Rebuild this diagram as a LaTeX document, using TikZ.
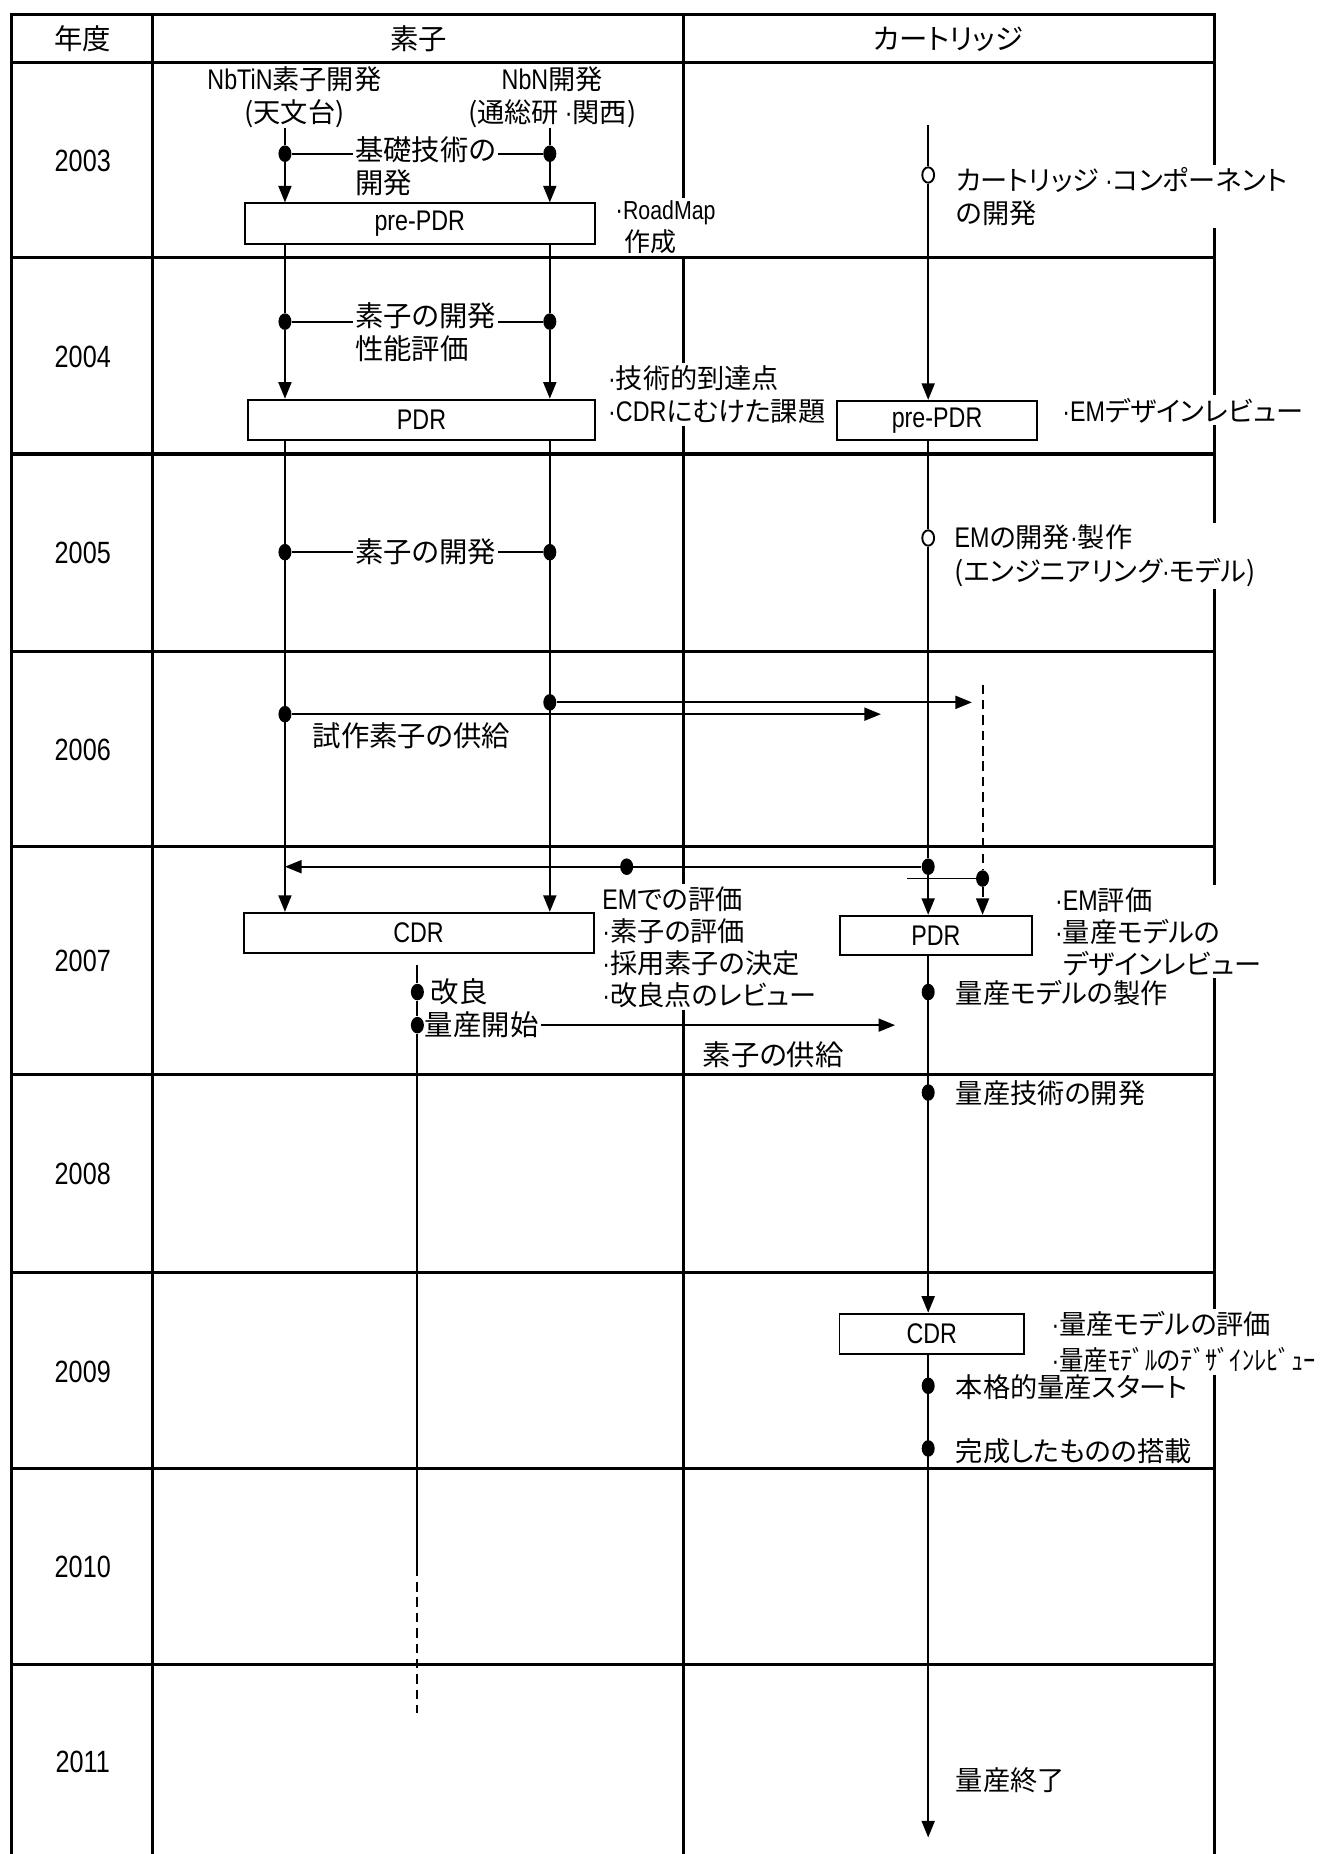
\documentclass[tikz,border=0pt]{standalone}
\usepackage{fontspec}
\setmainfont{Noto Sans CJK JP}[RawFeature=+palt]
\newfontfamily\lat{Liberation Sans}[FakeStretch=0.82]
\newcommand\bul{{\lat\fontsize{12}{14}\selectfont ·}}
\usetikzlibrary{arrows.meta,shapes.geometric}

\begin{document}
\begin{tikzpicture}[x=0.5pt,y=-0.5pt,font=\fontsize{11.5}{14}\selectfont,
	tbl/.style={line width=1.4pt},
	flow/.style={line width=0.8pt},
	arr/.style={-{Triangle[width=5.5pt,length=7pt]}},
	dsh/.style={dash pattern=on 4pt off 2.5pt},
	dot/.style={ellipse,fill,inner sep=0pt,minimum width=5.5pt,minimum height=7pt},
	odot/.style={ellipse,draw,fill=white,line width=0.8pt,inner sep=0pt,minimum width=5pt,minimum height=6.5pt},
	latn/.style={font=\fontsize{12}{14}\selectfont\lat},
	box/.style={draw,line width=0.8pt,fill=white,inner sep=0pt,minimum height=17pt,latn},
	lbl/.style={anchor=west,align=left,inner sep=1pt},
	wlbl/.style={lbl,fill=white}]
	\useasboundingbox (0,0) rectangle (1130,1568);

	% table
	\draw[tbl] (10,1568) -- (10,12) -- (1027,12) -- (1027,1568);
	\draw[tbl] (129,12) -- (129,1568);
	\draw[tbl] (578,12) -- (578,1568);
	\foreach \y in {53,218,384,551,716,909,1076,1242,1408}
		\draw[tbl] (10,\y) -- (1027,\y);

	\node[font=\fontsize{12}{14}\selectfont] (hyear) at (70,33) {年度};
	\node[font=\fontsize{12}{14}\selectfont] (helem) at (354,33) {素子};
	\node[font=\fontsize{12}{14}\selectfont] (hcart) at (802,33) {カートリッジ};

	% years
	\foreach \yr/\y in {2003/136,2004/302,2005/468,2006/634,2007/813,2008/993,2009/1160,2010/1325,2011/1490}
		\node[font=\fontsize{13}{15}\selectfont\lat] (y\yr) at (70,\y) {\yr};

	% boxes
	\node[box,minimum width=148pt] (epre) at (355,189) {pre-PDR};
	\node[box,minimum width=146.5pt] (epdr) at (356.5,355) {PDR};
	\node[box,minimum width=148pt] (ecdr) at (354,789) {CDR};
	\node[box,minimum width=84.5pt,minimum height=16.5pt] (cpre) at (792.5,355.5) {pre-PDR};
	\node[box,minimum width=81pt,minimum height=16.5pt] (cpdr) at (791.5,791) {PDR};
	\node[box,minimum width=78pt] (ccdr) at (788,1128) {CDR};

	% element lanes
	\coordinate (a0) at (241,108);
	\coordinate (b0) at (465,108);
	\node[dot] (a1) at (241,130) {};
	\node[dot] (b1) at (465,130) {};
	\node[dot] (a2) at (241,272) {};
	\node[dot] (b2) at (465,272) {};
	\node[dot] (a3) at (241,467) {};
	\node[dot] (b3) at (465,467) {};
	\node[dot] (a4) at (241,604) {};
	\node[dot] (b4) at (465,594) {};

	\draw[flow] (a0) -- (a1);
	\draw[flow] (b0) -- (b1);
	\draw[flow,arr] (a1) -- (a1 |- epre.north);
	\draw[flow,arr] (b1) -- (b1 |- epre.north);
	\draw[flow] (a1) -- (b1);
	\draw[flow] (a1 |- epre.south) -- (a2);
	\draw[flow] (b1 |- epre.south) -- (b2);
	\draw[flow,arr] (a2) -- (a2 |- epdr.north);
	\draw[flow,arr] (b2) -- (b2 |- epdr.north);
	\draw[flow] (a2) -- (b2);
	\draw[flow,arr] (a2 |- epdr.south) -- (a2 |- ecdr.north);
	\draw[flow,arr] (b2 |- epdr.south) -- (b2 |- ecdr.north);
	\draw[flow] (a3) -- (b3);

	% supply of samples
	\coordinate (s1) at (745,604);
	\coordinate (s2) at (822,594);
	\draw[flow,arr] (a4) -- (s1);
	\draw[flow,arr] (b4) -- (s2);

	% cartridge lane
	\coordinate (c0) at (785,106);
	\node[odot] (c1) at (785,148) {};
	\node[odot] (c2) at (785,455) {};
	\node[dot] (c3) at (785,733) {};
	\node[dot] (c4) at (785,839) {};
	\node[dot] (c5) at (785,924) {};
	\node[dot] (c6) at (785,1172) {};
	\node[dot] (c7) at (785,1225) {};
	\coordinate (c8) at (785,1554);

	\draw[flow] (c0) -- (c1);
	\draw[flow,arr] (c1) -- (c1 |- cpre.north);
	\draw[flow] (c1 |- cpre.south) -- (c2);
	\draw[flow] (c2) -- (c3);
	\draw[flow,arr] (c3) -- (c3 |- cpdr.north);
	\draw[flow,arr] (c3 |- cpdr.south) -- (c3 |- ccdr.north);
	\draw[flow,arr] (c3 |- ccdr.south) -- (c8);

	% EM evaluation
	\node[dot] (e1) at (530,733) {};
	\coordinate (a5) at (241,733);
	\draw[flow,arr] (c3) -- (a5);

	\coordinate (d0) at (831,579);
	\node[dot] (d1) at (831,743) {};
	\coordinate (d2) at (767,743);
	\draw[flow,dsh] (d0) -- (d1);
	\draw[flow] (d2) -- (d1);
	\draw[flow,dsh,arr] (d1) -- (d1 |- cpdr.north);

	% mass production of elements
	\coordinate (k0) at (353,816);
	\node[dot] (k1) at (353,839) {};
	\node[dot] (k2) at (353,867) {};
	\coordinate (k3) at (353,1325);
	\coordinate (k4) at (353,1449);
	\draw[flow] (k0) -- (k1) -- (k2) -- (k3);
	\draw[flow,dsh] (k3) -- (k4);

	% labels
	\node[align=center] (nbtin) at (249,82) {{\lat\fontsize{12}{14}\selectfont NbTiN}素子開発\\(天文台)};
	\node[align=center] (nbn) at (467,82) {{\lat\fontsize{12}{14}\selectfont NbN}開発\\(通総研 \bul 関西)};
	\node[wlbl,font=\fontsize{12}{14}\selectfont] (basic) at (298,141) {基礎技術の\\開発};
	\node[wlbl,font=\fontsize{11}{13.5}\selectfont] (roadmap) at (518,192) {\bul{\lat RoadMap}\\\hspace*{4pt}作成};
	\node[wlbl,font=\fontsize{12}{14}\selectfont] (dev04) at (298,281) {素子の開発\\性能評価};
	\node[wlbl] (tech) at (512,334) {\bul 技術的到達点\\\bul{\lat\fontsize{12}{14}\selectfont CDR}にむけた課題};
	\node[wlbl,font=\fontsize{12}{14}\selectfont] (dev05) at (298,467) {素子の開発};
	\node[lbl,font=\fontsize{12}{14}\selectfont] (proto) at (262,622) {試作素子の供給};
	\node[wlbl,font=\fontsize{11.5}{13.5}\selectfont] (emeval) at (507,801) {{\lat\fontsize{12}{14}\selectfont EM}での評価\\\bul 素子の評価\\\bul 採用素子の決定\\\bul 改良点のレビュー};
	\node[lbl,font=\fontsize{12}{14}\selectfont] (kairyo) at (362,839) {改良};
	\node[lbl,font=\fontsize{12}{14}\selectfont] (mstart) at (357,867) {量産開始};
	\coordinate (s3) at (757,867);
	\draw[flow,arr] (mstart.east) -- (s3);
	\node[lbl,font=\fontsize{12}{14}\selectfont] (supply) at (592,892) {素子の供給};

	\node[wlbl] (comp) at (806,166) {カートリッジ \bul コンポーネント\\の開発};
	\node[wlbl] (emdr) at (896,347) {\bul{\lat\fontsize{12}{14}\selectfont EM}デザインレビュー};
	\node[wlbl] (emdev) at (805,470) {{\lat\fontsize{12}{14}\selectfont EM}の開発\bul 製作\\(エンジニアリング\bul モデル)};
	\node[wlbl,font=\fontsize{11.5}{13.5}\selectfont] (emrev) at (890,788) {\bul{\lat\fontsize{12}{14}\selectfont EM}評価\\\bul 量産モデルの\\\phantom{\bul}デザインレビュー};
	\node[lbl] (mfab) at (806,840) {量産モデルの製作};
	\node[lbl] (mtech) at (806,925) {量産技術の開発};
	\node[wlbl,font=\fontsize{11.5}{15}\selectfont] (mrev) at (887,1135) {\bul 量産モデルの評価\\\bul\scalebox{0.9}[1]{量産ﾓﾃﾞﾙのﾃﾞｻﾞｲﾝﾚﾋﾞｭｰ}};
	\node[lbl] (fstart) at (806,1173) {本格的量産スタート};
	\node[lbl] (mload) at (806,1227) {完成したものの搭載};
	\node[lbl] (mend) at (806,1506) {量産終了};
\end{tikzpicture}
\end{document}
